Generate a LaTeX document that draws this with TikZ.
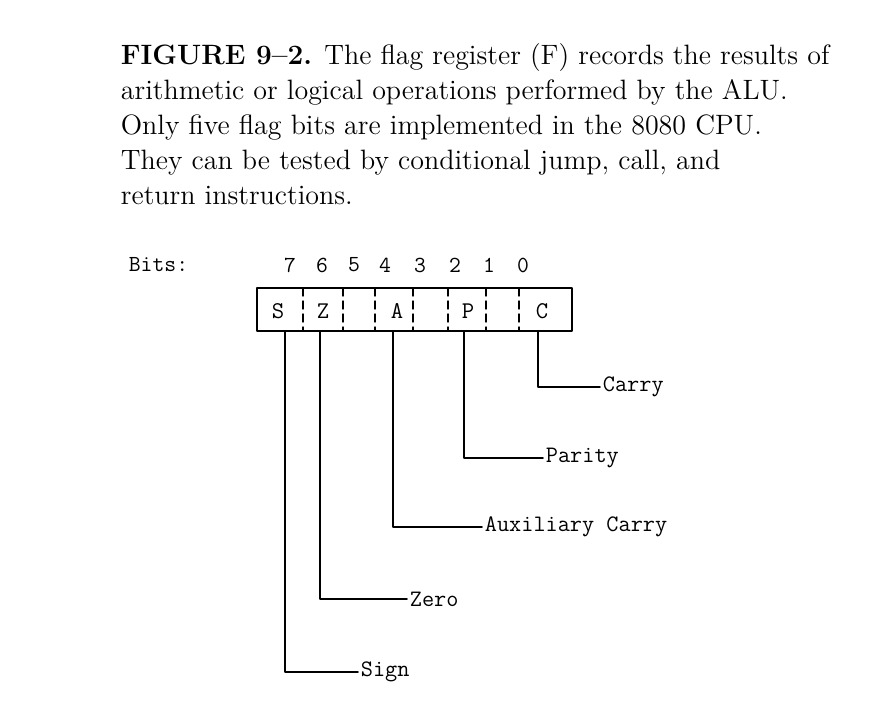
\documentclass[tikz,border=0pt]{standalone}
\usepackage{fontspec}
\begin{document}
\begin{tikzpicture}[x=0.5pt, y=-0.5pt, line join=round, line cap=round, line width=0.9pt,
    flagtxt/.style={font=\fontsize{12}{14}\selectfont\ttfamily, inner sep=0pt},
    bitnum/.style={font=\fontsize{11.5}{13}\selectfont\ttfamily, inner sep=0pt},
    lbl/.style={font=\fontsize{11.8}{14}\selectfont\ttfamily, anchor=west, inner sep=1pt},
    sep/.style={line width=0.7pt, dash pattern=on 4pt off 2.5pt}]
    \useasboundingbox (0,0) rectangle (877,716);

    % Caption
    \node[anchor=north west, align=left, inner sep=0pt,
          font=\fontsize{14}{17.5}\selectfont] (caption) at (120,43)
        {\textbf{FIGURE 9--2.} The flag register (F) records the results of\\
         arithmetic or logical operations performed by the ALU.\\
         Only five flag bits are implemented in the 8080 CPU.\\
         They can be tested by conditional jump, call, and\\
         return instructions.};

    % Bit numbers
    \node[bitnum, anchor=west] (bits) at (128,265) {Bits:};
    \foreach \b/\x in {7/290, 6/322, 5/354, 4/385, 3/420, 2/455, 1/489, 0/523} {
        \node[bitnum] (b\b) at (\x,265) {\b};
    }

    % Register box with dashed dividers
    \draw (257,288) rectangle (572,331);
    \foreach \x in {303, 343, 375, 413, 448, 486, 519} {
        \draw[sep] (\x,288) -- (\x,331);
    }
    \foreach \f/\x in {S/278, Z/323, A/397, P/468, C/542} {
        \node[flagtxt] (f\f) at (\x,311) {\f};
    }

    % Leaders to the flag names
    \foreach \f/\x/\y/\lx/\txt in {S/285/672/358/Sign, Z/320/599/407/Zero,
            A/393/527/482/Auxiliary Carry, P/464/458/543/Parity, C/538/387/600/Carry} {
        \coordinate (t\f) at (\x,331);
        \node[lbl] (l\f) at (\lx,\y) {\txt};
        \draw (t\f) |- (l\f.west);
    }
\end{tikzpicture}
\end{document}
